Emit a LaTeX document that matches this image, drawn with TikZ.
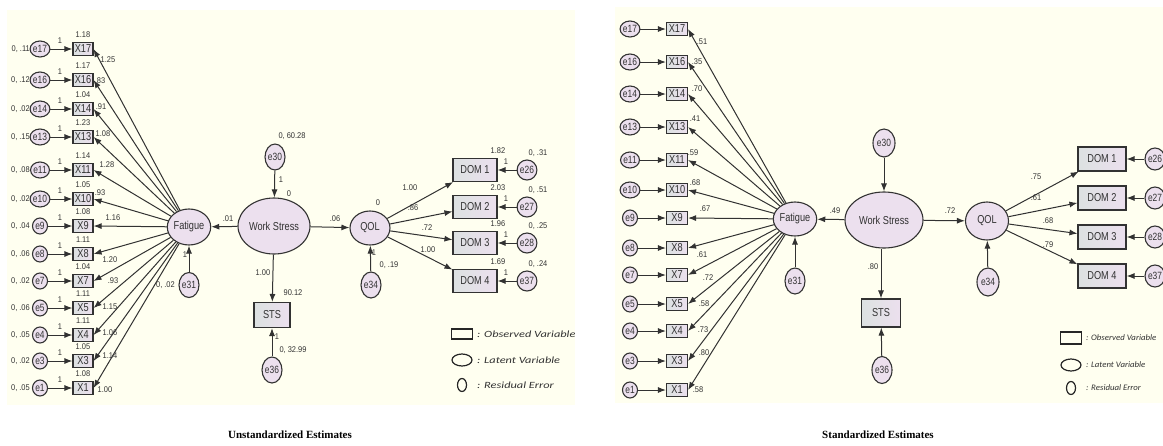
\documentclass[tikz,border=0pt]{standalone}
\usepackage{fontspec}
\setmainfont{Liberation Sans}
\newfontfamily\amosfont[FakeStretch=0.8]{Liberation Sans}
\newfontfamily\numfont[FakeStretch=0.9]{Liberation Sans}
\newfontfamily\legfont[FakeStretch=1.3]{Carlito}
\newfontfamily\legnarrow[FakeStretch=1.05]{Carlito}
\newfontfamily\capfont{Liberation Serif}
\usetikzlibrary{arrows.meta, shapes.geometric, positioning}
\definecolor{paper}{RGB}{255,255,240}
\definecolor{lavender}{RGB}{236,224,238}
\definecolor{boxgray}{RGB}{220,225,225}
\definecolor{inkgray}{RGB}{50,50,50}
\tikzset{
  obs/.style={rectangle, draw=inkgray, line width=1.1pt, left color=boxgray, right color=lavender, inner sep=0pt, text=inkgray, font=\amosfont\fontsize{11.5}{11.5}\selectfont},
  lat/.style={ellipse, draw=inkgray, line width=1.1pt, fill=lavender, inner sep=0pt, text=inkgray, font=\amosfont\fontsize{11.5}{11.5}\selectfont},
  err/.style={lat, font=\amosfont\fontsize{10.5}{10.5}\selectfont},
  num/.style={inner sep=0pt, text=inkgray, font=\numfont\fontsize{8.3}{9}\selectfont},
  pto/.style={-{Latex[length=8pt,width=6pt]}, line width=1pt, inkgray},
  legbox/.style={draw=black!85, line width=1.2pt, inner sep=0pt},
  legtxt/.style={anchor=west, inner sep=0pt, text=inkgray, font=\legfont\itshape\fontsize{9.5}{10}\selectfont},
  caption/.style={font=\capfont\bfseries\fontsize{11}{12}\selectfont}
}

\begin{document}
\begin{tikzpicture}[x=1pt, y=-1pt]
  \useasboundingbox (0,0) rectangle (1163,445);
  \fill[paper] (7,10) rectangle (575,405);
  \fill[paper] (615,7) rectangle (1163,403);

  % unstandardized estimates
  \node[lat, minimum width=34pt, minimum height=36pt] (ufat) at (189,227) {Fatigue};
  \node[err, minimum width=20pt, minimum height=25pt] (ue31) at (189,285) {e31};
  \draw[pto] (ue31) -- (ufat);
  \node[num] at (185,255) {1};
  \node[num, anchor=east] at (175,285) {0, .02};

  \foreach \n/\y/\ic/\va/\ld/\lx/\ly in {
    17/49/1.18/.11/1.25/108/60,
    16/80/1.17/.12/.83/100/81,
    14/109/1.04/.02/.91/101/107,
    13/137/1.23/.15/1.08/103/134,
    11/170/1.14/.08/1.28/107/165,
    10/199/1.05/.02/.93/100/193,
    9/226/1.08/.04/1.16/113/218,
    8/254/1.11/.06/1.20/110/260,
    7/281/1.04/.02/.93/113/281,
    5/308/1.11/.06/1.15/110/307,
    4/335/1.11/.05/1.06/110/333,
    3/361/1.05/.02/1.14/110/356,
    1/388/1.08/.05/1.00/105/390} {
    \node[obs, minimum width=20pt, minimum height=13pt] (ux\n) at (83,\y) {X\n};
    \node[err, minimum width=15pt, minimum height=16pt] (ue\n) at (40,\y) {e\n};
    \draw[pto] (ue\n) -- (ux\n);
    \draw[pto] (ufat) -- (ux\n.east);
    \node[num] at (60,\y-8) {1};
    \node[num] at (83,\y-14) {\ic};
    \node[num, anchor=east] at (30,\y) {0, \va};
    \node[num] at (\lx,\ly) {\ld};
  }

  \node[lat, minimum width=72pt, minimum height=56pt] (uws) at (274,226) {Work Stress};
  \node[err, minimum width=20pt, minimum height=26pt] (ue30) at (275,157) {e30};
  \draw[pto] (ue30) -- (uws);
  \node[num] at (281,180) {1};
  \node[num] at (289,194) {0};
  \node[num] at (292,136) {0, 60.28};
  \draw[pto] (uws) -- (ufat);
  \node[num] at (228,219) {.01};

  \node[obs, minimum width=36pt, minimum height=25pt] (usts) at (272,315) {STS};
  \node[err, minimum width=20pt, minimum height=26pt] (ue36) at (272,370) {e36};
  \draw[pto] (uws) -- (usts);
  \draw[pto] (ue36) -- (usts);
  \node[num] at (263,273) {1.00};
  \node[num] at (293,293) {90.12};
  \node[num] at (277,337) {1};
  \node[num] at (293,350) {0, 32.99};

  \node[lat, minimum width=40pt, minimum height=34pt] (uqol) at (370,228) {QOL};
  \node[err, minimum width=20pt, minimum height=26pt] (ue34) at (371,285) {e34};
  \draw[pto] (uws) -- (uqol);
  \draw[pto] (ue34) -- (uqol);
  \node[num] at (335,219) {.06};
  \node[num] at (378,203) {0};
  \node[num] at (374,253) {1};
  \node[num] at (389,265) {0, .19};

  \foreach \d/\e/\y/\ic/\va/\ld/\lx/\ly in {
    1/26/170/1.82/.31/1.00/410/188,
    2/27/207/2.03/.51/.86/413/208,
    3/28/243/1.96/.25/.72/427/228,
    4/37/281/1.69/.24/1.00/428/250} {
    \node[obs, minimum width=44pt, minimum height=23pt] (udom\d) at (475,\y) {DOM \d};
    \node[err, minimum width=18pt, minimum height=20pt] (ue\e) at (527,\y) {e\e};
    \draw[pto] (uqol) -- (udom\d);
    \draw[pto] (ue\e) -- (udom\d);
    \node[num] at (\lx,\ly) {\ld};
    \node[num] at (498,\y-19) {\ic};
    \node[num] at (506,\y-8) {1};
    \node[num] at (538,\y-17) {0, \va};
  }

  \node[legbox, rectangle, minimum width=21pt, minimum height=10pt] (uleg1) at (462,334) {};
  \node[legbox, ellipse, minimum width=20pt, minimum height=12pt] (uleg2) at (462,360) {};
  \node[legbox, ellipse, minimum width=9pt, minimum height=13pt] (uleg3) at (462,385) {};
  \node[legtxt] at (477,334) {: Observed Variable};
  \node[legtxt] at (477,360) {: Latent Variable};
  \node[legtxt] at (477,385) {: Residual Error};

  \node[caption] (ucap) at (290,435) {Unstandardized Estimates};

  % standardized estimates
  \node[lat, minimum width=35pt, minimum height=34pt] (sfat) at (795,219) {Fatigue};
  \node[err, minimum width=20pt, minimum height=26pt] (se31) at (795,281) {e31};
  \draw[pto] (se31) -- (sfat);

  \foreach \n/\y/\ld/\lx/\ly in {
    17/29/.51/702/42,
    16/62/.35/697/62,
    14/94/.70/697/89,
    13/127/.41/695/119,
    11/160/.59/693/153,
    10/190/.68/695/183,
    9/218/.67/705/209,
    8/248/.61/702/255,
    7/275/.72/708/278,
    5/304/.58/704/304,
    4/331/.73/703/330,
    3/361/.80/704/353,
    1/390/.58/698/390} {
    \node[obs, minimum width=21pt, minimum height=13pt] (sx\n) at (677,\y) {X\n};
    \node[err, minimum width=15pt, minimum height=16pt] (se\n) at (630,\y) {e\n};
    \draw[pto] (se\n) -- (sx\n);
    \draw[pto] (sfat) -- (sx\n.east);
    \node[num] at (\lx,\ly) {\ld};
  }

  \node[lat, minimum width=78pt, minimum height=56pt] (sws) at (884,220) {Work Stress};
  \node[err, minimum width=22pt, minimum height=28pt] (se30) at (884,143) {e30};
  \draw[pto] (se30) -- (sws);
  \draw[pto] (sws) -- (sfat);
  \node[num] at (835,211) {.49};

  \node[obs, minimum width=39pt, minimum height=28pt] (ssts) at (881,313) {STS};
  \node[err, minimum width=20pt, minimum height=27pt] (se36) at (882,370) {e36};
  \draw[pto] (sws.south -| ssts) -- (ssts);
  \draw[pto] (se36) -- (ssts);
  \node[num] at (873,267) {.80};

  \node[lat, minimum width=43pt, minimum height=38pt] (sqol) at (987,221) {QOL};
  \node[err, minimum width=22pt, minimum height=28pt] (se34) at (988,282) {e34};
  \draw[pto] (sws) -- (sqol);
  \draw[pto] (se34) -- (sqol);
  \node[num] at (950,211) {.72};

  \foreach \d/\e/\y/\ld/\lx/\ly in {
    1/26/159/.75/1036/177,
    2/27/198/.61/1036/198,
    3/28/237/.68/1048/221,
    4/37/276/.79/1048/245} {
    \node[obs, minimum width=48pt, minimum height=24pt] (sdom\d) at (1102,\y) {DOM \d};
    \node[err, minimum width=20pt, minimum height=22pt] (se\e) at (1155,\y) {e\e};
    \draw[pto] (sqol) -- (sdom\d);
    \draw[pto] (se\e) -- (sdom\d);
    \node[num] at (\lx,\ly) {\ld};
  }

  \node[legbox, rectangle, minimum width=21pt, minimum height=12pt] (sleg1) at (1071,338) {};
  \node[legbox, ellipse, minimum width=20pt, minimum height=12pt] (sleg2) at (1071,365) {};
  \node[legbox, ellipse, minimum width=9pt, minimum height=13pt] (sleg3) at (1071,388) {};
  \node[legtxt, font=\legnarrow\itshape\fontsize{8.4}{9}\selectfont] at (1086,338) {: Observed Variable};
  \node[legtxt, font=\legnarrow\itshape\fontsize{8.4}{9}\selectfont] at (1086,365) {: Latent Variable};
  \node[legtxt, font=\legnarrow\itshape\fontsize{8.4}{9}\selectfont] at (1086,388) {: Residual Error};

  \node[caption] (scap) at (878,435) {Standardized Estimates};
\end{tikzpicture}
\end{document}
